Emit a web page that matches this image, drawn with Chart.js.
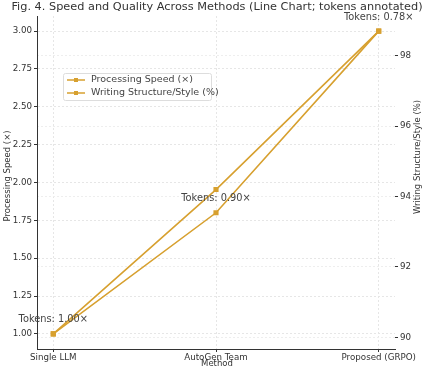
<!DOCTYPE html>
<html>
<head>
<meta charset="utf-8">
<script src="https://cdn.jsdelivr.net/npm/chart.js@4"></script>
<style>
  html, body { margin: 0; padding: 0; background: #fff; }
  #wrap { width: 424px; height: 366px; }
</style>
</head>
<body>
<div id="wrap"><canvas id="chart" width="424" height="366"></canvas></div>
<script>
// data
const methods = ['Single LLM', 'AutoGen Team', 'Proposed (GRPO)'];
const speed = [1.0, 1.8, 3.0];
const writing = [90.1, 94.2, 98.7];
const tokens = [1.00, 0.90, 0.78];
const speedTicks = [1.00, 1.25, 1.50, 1.75, 2.00, 2.25, 2.50, 2.75, 3.00];
const writingTicks = [90, 92, 94, 96, 98];

const FONT = '"DejaVu Sans", sans-serif';
const LINE = '#d7a02f';
const TEXT = '#444';

function fixedTicks(list) {
    return scale => { scale.ticks = list.map(v => ({ value: v })); };
}

// title, axis titles, legend box and token notes
const overlay = {
    id: 'overlay',
    afterDraw(chart) {
        const ctx = chart.ctx;
        const xs = chart.scales.x, ys = chart.scales.y;
        ctx.save();
        ctx.fillStyle = '#333';
        ctx.textAlign = 'center';
        ctx.textBaseline = 'middle';
        ctx.font = '11.3px ' + FONT;
        ctx.fillText('Fig. 4. Speed and Quality Across Methods (Line Chart; tokens annotated)', 217, 7);

        ctx.font = '8.5px ' + FONT;
        ctx.fillText('Method', 217, 364);
        ctx.save();
        ctx.translate(8, 176);
        ctx.rotate(-Math.PI / 2);
        ctx.fillText('Processing Speed (×)', 0, 0);
        ctx.restore();
        ctx.save();
        ctx.translate(418, 157);
        ctx.rotate(-Math.PI / 2);
        ctx.fillText('Writing Structure/Style (%)', 0, 0);
        ctx.restore();

        // token annotations above speed points
        ctx.font = '9.8px ' + FONT;
        ctx.fillStyle = TEXT;
        tokens.forEach((t, i) => {
            const px = xs.getPixelForValue(i);
            const py = ys.getPixelForValue(speed[i]);
            ctx.fillText('Tokens: ' + t.toFixed(2) + '×', px, py - 14);
        });

        // legend
        const lx = 63, ly = 73, lw = 148, lh = 27;
        ctx.fillStyle = 'rgba(255,255,255,0.85)';
        ctx.strokeStyle = '#ddd';
        ctx.lineWidth = 1;
        ctx.beginPath();
        ctx.roundRect(lx + 0.5, ly + 0.5, lw, lh, 2);
        ctx.fill();
        ctx.stroke();
        const labels = ['Processing Speed (×)', 'Writing Structure/Style (%)'];
        ctx.font = '9.5px ' + FONT;
        ctx.textAlign = 'left';
        labels.forEach((lab, k) => {
            const yy = ly + 7 + k * 13;
            ctx.strokeStyle = LINE;
            ctx.lineWidth = 1.5;
            ctx.beginPath();
            ctx.moveTo(lx + 4, yy);
            ctx.lineTo(lx + 22, yy);
            ctx.stroke();
            ctx.fillStyle = LINE;
            ctx.fillRect(lx + 11, yy - 2, 4, 4);
            ctx.fillStyle = TEXT;
            ctx.fillText(lab, lx + 28, yy);
        });
        ctx.restore();
    }
};

new Chart(document.getElementById('chart'), {
    type: 'line',
    data: {
        datasets: [{
            label: 'Processing Speed (×)',
            data: speed.map((v, i) => ({ x: i, y: v })),
            yAxisID: 'y',
            borderColor: LINE,
            backgroundColor: LINE,
            borderWidth: 1.6,
            pointStyle: 'rect',
            pointRadius: 2.5
        }, {
            label: 'Writing Structure/Style (%)',
            data: writing.map((v, i) => ({ x: i, y: v })),
            yAxisID: 'y2',
            borderColor: LINE,
            backgroundColor: LINE,
            borderWidth: 1.6,
            pointStyle: 'rect',
            pointRadius: 2.5
        }]
    },
    options: {
        responsive: false,
        animation: false,
        layout: { padding: { top: 16, left: 0, right: 0, bottom: 0 } },
        plugins: { legend: { display: false }, tooltip: { enabled: false } },
        scales: {
            x: {
                type: 'linear',
                min: -0.1,
                max: 2.1,
                afterBuildTicks: fixedTicks([0, 1, 2]),
                afterFit: s => { s.height = 17; },
                ticks: {
                    callback: v => methods[v],
                    font: { family: FONT, size: 8.7 },
                    color: '#333',
                    padding: 1,
                    maxRotation: 0
                },
                grid: { color: '#e6e6e6', tickColor: '#333', tickLength: 3 },
                border: { display: true, color: '#333', dash: [2, 2] }
            },
            y: {
                position: 'left',
                min: 0.9,
                max: 3.1,
                afterBuildTicks: fixedTicks(speedTicks),
                afterFit: s => { s.width = 37; },
                ticks: {
                    callback: v => v.toFixed(2),
                    font: { family: FONT, size: 8.7 },
                    color: '#333',
                    padding: 2
                },
                grid: { color: '#e6e6e6', tickColor: '#333', tickLength: 3 },
                border: { display: true, color: '#333', dash: [2, 2] }
            },
            y2: {
                position: 'right',
                min: 89.67,
                max: 99.13,
                afterBuildTicks: fixedTicks(writingTicks),
                afterFit: s => { s.width = 29; },
                ticks: {
                    font: { family: FONT, size: 8.7 },
                    color: '#333',
                    padding: 2
                },
                grid: { color: '#eeeeee', tickColor: '#333', tickLength: 3 },
                border: { display: false, dash: [2, 2] }
            }
        }
    },
    plugins: [overlay]
});
</script>
</body>
</html>
